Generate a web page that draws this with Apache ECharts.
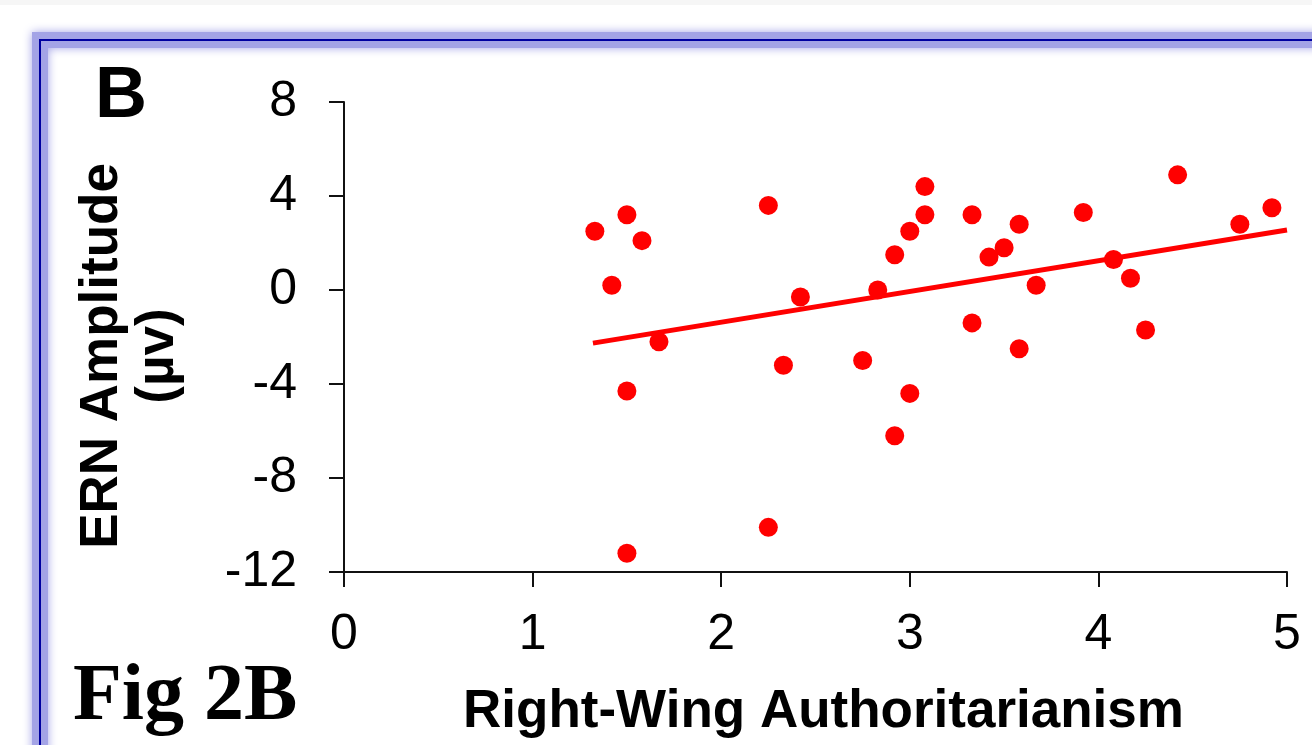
<!DOCTYPE html>
<html>
<head>
<meta charset="utf-8">
<title>Fig 2B</title>
<script src="https://cdn.jsdelivr.net/npm/echarts@6/dist/echarts.min.js"></script>
<style>
  html, body { margin: 0; padding: 0; background: #fff; }
  #chart { width: 1312px; height: 745px; }
</style>
</head>
<body>
<div id="chart"></div>
<script>
// RWA score vs ERN amplitude, one point per participant
var rwaScores = [1.33, 1.42, 1.50, 1.58, 1.50, 1.67, 1.50, 2.25, 2.42, 2.33, 2.25, 2.75, 2.83, 2.92, 2.92,
  3.00, 3.00, 3.08, 3.08, 3.33, 3.33, 3.42, 3.50, 3.58, 3.58, 3.67, 3.92, 4.08, 4.17, 4.25, 4.42, 4.75, 4.92];
var ernValues = [2.5, 0.2, 3.2, 2.1, -4.3, -2.2, -11.2, 3.6, -0.3, -3.2, -10.1, -3.0, 0.0, 1.5, -6.2,
  2.5, -4.4, 4.4, 3.2, 3.2, -1.4, 1.4, 1.8, 2.8, -2.5, 0.2, 3.3, 1.3, 0.5, -1.7, 4.9, 2.8, 3.5];

var fitX = [1.32, 5];
var fitY = [-2.26, 2.55];

var xTicks = [0, 1, 2, 3, 4, 5];
var yTicks = [-12, -8, -4, 0, 4, 8];

var points = rwaScores.map(function (x, i) { return [x, ernValues[i]]; });
var fitLine = fitX.map(function (x, i) { return [x, fitY[i]]; });

var chart = echarts.init(document.getElementById('chart'));

var axisFont = 'Liberation Sans, Arial, sans-serif';

chart.setOption({
  backgroundColor: '#fff',
  animation: false,
  grid: { left: 344, right: 25, top: 102, bottom: 173 },
  xAxis: {
    type: 'value',
    min: xTicks[0],
    max: xTicks[xTicks.length - 1],
    interval: 1,
    name: 'Right-Wing Authoritarianism',
    nameLocation: 'middle',
    nameGap: 114,
    nameTextStyle: { fontFamily: axisFont, fontWeight: 'bold', fontSize: 53, color: '#000', padding: [0, 0, 0, 16] },
    axisLine: { onZero: false, lineStyle: { color: '#111', width: 2 } },
    axisTick: { inside: false, length: 15, lineStyle: { color: '#111', width: 2 } },
    axisLabel: { fontFamily: axisFont, fontSize: 50, color: '#000', margin: 38 },
    splitLine: { show: false }
  },
  yAxis: {
    type: 'value',
    min: yTicks[0],
    max: yTicks[yTicks.length - 1],
    interval: 4,
    name: 'ERN Amplitude\n(µv)',
    nameLocation: 'middle',
    nameRotate: 90,
    nameGap: 158,
    nameTextStyle: { fontFamily: axisFont, fontWeight: 'bold', fontSize: 53, lineHeight: 56, color: '#000', padding: [0, 38, 0, 0] },
    axisLine: { onZero: false, lineStyle: { color: '#111', width: 2 } },
    axisTick: { inside: false, length: 15, lineStyle: { color: '#111', width: 2 } },
    axisLabel: { fontFamily: axisFont, fontSize: 50, color: '#000', margin: 47 },
    splitLine: { show: false }
  },
  graphic: [
    // faint grey strip at the very top
    { type: 'rect', shape: { x: 0, y: 0, width: 1312, height: 5 }, style: { fill: '#f6f6f6' }, silent: true },
    // blue glowing frame
    { type: 'rect', shape: { x: 40, y: 40, width: 1400, height: 800 },
      style: { fill: 'none', stroke: '#a4a4e6', lineWidth: 16, shadowBlur: 10, shadowColor: '#a4a4e6' }, silent: true },
    { type: 'rect', shape: { x: 40, y: 40, width: 1400, height: 800 },
      style: { fill: 'none', stroke: '#0000a0', lineWidth: 2 }, silent: true },
    { type: 'text', x: 121, y: 97,
      style: { text: 'B', fontFamily: axisFont, fontWeight: 'bold', fontSize: 72, fill: '#000', align: 'center', verticalAlign: 'middle' } },
    { type: 'text', x: 73, y: 698,
      style: { text: 'Fig 2B', fontFamily: 'Liberation Serif, Times New Roman, serif', fontWeight: 'bold', fontSize: 80, fill: '#000', align: 'left', verticalAlign: 'middle' } }
  ],
  series: [
    {
      type: 'scatter',
      data: points,
      symbolSize: 19,
      itemStyle: { color: '#ff0000', opacity: 1 }
    },
    {
      type: 'line',
      data: fitLine,
      symbol: 'none',
      lineStyle: { color: '#ff0000', width: 5 },
      z: 3
    }
  ]
});
</script>
</body>
</html>
